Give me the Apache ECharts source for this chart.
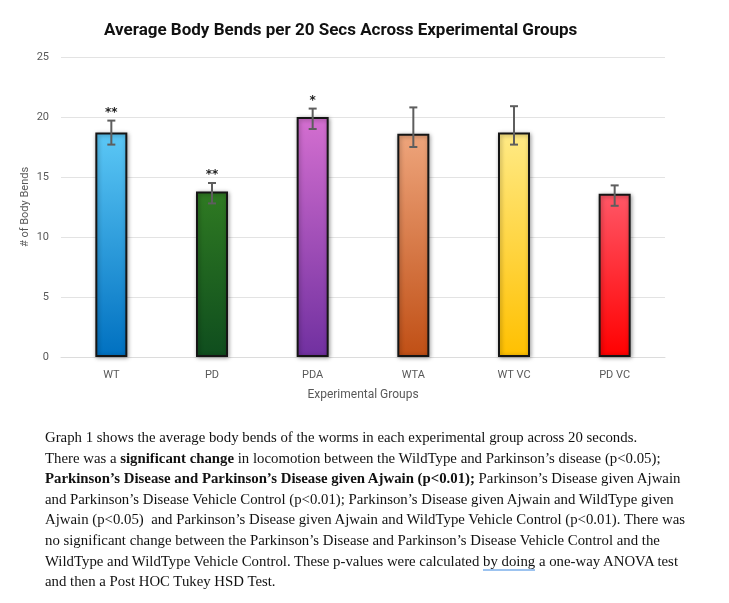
<!DOCTYPE html>
<html>
<head>
<meta charset="utf-8">
<script src="https://cdn.jsdelivr.net/npm/echarts@6/dist/echarts.min.js"></script>
<style>
  html, body { margin: 0; padding: 0; background: #fff; }
  #wrap { position: relative; width: 729px; height: 603px; overflow: hidden; }
  #chart { position: absolute; left: 0; top: 0; width: 729px; height: 603px; }
  #para { position: absolute; left: 45px; top: 427px; font-family: 'Liberation Serif', serif; font-size: 14.8px; line-height: 20.6px; color: #111; white-space: nowrap; }
  #para b { font-weight: bold; }
  .ul { border-bottom: 2px solid #9cc3f0; }
</style>
</head>
<body>
<div id="wrap">
  <div id="chart"></div>
  <div id="para">
    Graph 1 shows the average body bends of the worms in each experimental group across 20 seconds.<br>
    There was a <b>significant change</b> in locomotion between the WildType and Parkinson’s disease (p&lt;0.05);<br>
    <b>Parkinson’s Disease and Parkinson’s Disease given Ajwain (p&lt;0.01);</b> Parkinson’s Disease given Ajwain<br>
    and Parkinson’s Disease Vehicle Control (p&lt;0.01); Parkinson’s Disease given Ajwain and WildType given<br>
    Ajwain (p&lt;0.05)&nbsp; and Parkinson’s Disease given Ajwain and WildType Vehicle Control (p&lt;0.01). There was<br>
    no significant change between the Parkinson’s Disease and Parkinson’s Disease Vehicle Control and the<br>
    WildType and WildType Vehicle Control. These p-values were calculated <span class="ul">by doing</span> a one-way ANOVA test<br>
    and then a Post HOC Tukey HSD Test.
  </div>
</div>
<script>
// ---- data ----
var categories = ['WT', 'PD', 'PDA', 'WTA', 'WT VC', 'PD VC'];
var means      = [18.7, 13.8, 20.0, 18.6, 18.7, 13.6];
var errLow     = [17.7, 12.8, 19.0, 17.5, 17.7, 12.6];
var errHigh    = [19.7, 14.5, 20.7, 20.8, 20.9, 14.3];
var stars      = ['**', '**', '*', '', '', ''];
var yTicks     = [0, 5, 10, 15, 20, 25];

// ---- styles ----
var topColors    = ['#5cc8f6', '#2f7a22', '#d46fd0', '#eea57c', '#ffea85', '#ff5767'];
var bottomColors = ['#0070c0', '#0f4d1e', '#7030a0', '#c04f15', '#ffc000', '#ff0000'];

var chart = echarts.init(document.getElementById('chart'), null, { renderer: 'canvas' });

var barData = means.map(function (v, i) {
  return {
    value: v,
    itemStyle: {
      color: new echarts.graphic.LinearGradient(0, 0, 0, 1, [
        { offset: 0, color: topColors[i] },
        { offset: 1, color: bottomColors[i] }
      ])
    }
  };
});

var errData = categories.map(function (c, i) {
  return [i, errLow[i], errHigh[i], stars[i]];
});

var axisFont = 'Roboto';

chart.setOption({
  animation: false,
  backgroundColor: '#fff',
  title: {
    text: 'Average Body Bends per 20 Secs Across Experimental Groups',
    left: 99,
    top: 17,
    textStyle: { fontFamily: 'Roboto', fontWeight: 'bold', fontSize: 17, color: '#111' }
  },
  grid: { left: 61, right: 64, top: 57, bottom: 246 },
  xAxis: {
    type: 'category',
    data: categories,
    axisTick: { show: false },
    axisLine: { lineStyle: { color: '#dcdcdc', width: 1 } },
    axisLabel: { color: '#595959', fontFamily: axisFont, fontSize: 11, margin: 13 },
    name: 'Experimental Groups',
    nameLocation: 'middle',
    nameGap: 32,
    nameMoveOverlap: false,
    nameTextStyle: { color: '#595959', fontFamily: axisFont, fontSize: 12 }
  },
  yAxis: {
    type: 'value',
    min: 0, max: 25, interval: 5,
    axisLabel: { color: '#595959', fontFamily: axisFont, fontSize: 11, margin: 12 },
    splitLine: { lineStyle: { color: '#e3e3e3', width: 1 } },
    axisLine: { show: false },
    axisTick: { show: false },
    name: '# of Body Bends',
    nameLocation: 'middle',
    nameGap: 30,
    nameMoveOverlap: false,
    nameTextStyle: { color: '#595959', fontFamily: axisFont, fontSize: 11 }
  },
  series: [
    {
      type: 'bar',
      data: barData,
      barWidth: 32,
      itemStyle: {
        borderColor: '#151515',
        borderWidth: 2,
        shadowBlur: 4,
        shadowColor: 'rgba(0,0,0,0.35)',
        shadowOffsetX: 1,
        shadowOffsetY: 1
      },
      z: 2
    },
    {
      type: 'custom',
      data: errData,
      z: 5,
      renderItem: function (params, api) {
        var x = api.value(0);
        var lo = api.coord([x, api.value(1)]);
        var hi = api.coord([x, api.value(2)]);
        var half = 4;
        var st = { stroke: '#5e5e5e', lineWidth: 2 };
        var children = [
          { type: 'line', shape: { x1: hi[0], y1: hi[1], x2: lo[0], y2: lo[1] }, style: st },
          { type: 'line', shape: { x1: hi[0] - half, y1: hi[1], x2: hi[0] + half, y2: hi[1] }, style: st },
          { type: 'line', shape: { x1: lo[0] - half, y1: lo[1], x2: lo[0] + half, y2: lo[1] }, style: st }
        ];
        var s = stars[params.dataIndex];
        if (s) {
          children.push({
            type: 'text',
            style: {
              text: s, x: hi[0], y: hi[1] - 2,
              align: 'center', verticalAlign: 'bottom',
              fontFamily: 'DejaVu Sans', fontWeight: 'bold', fontSize: 12, fill: '#222'
            }
          });
        }
        return { type: 'group', children: children };
      }
    }
  ]
});
</script>
</body>
</html>
